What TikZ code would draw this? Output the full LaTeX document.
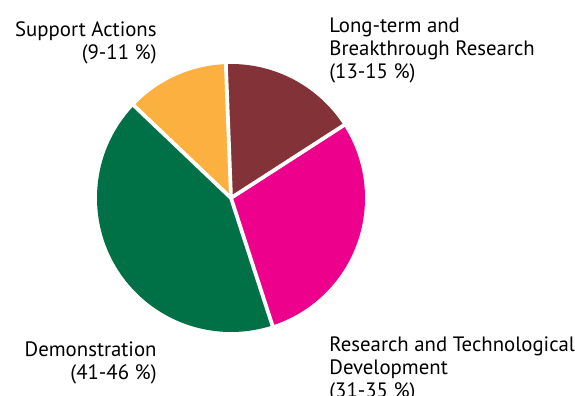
\documentclass[tikz,border=0pt]{standalone}
\usepackage{fontspec}
\setmainfont{PT Sans}
\usepackage{tikz}
\usetikzlibrary{positioning}
\definecolor{ltrcol}{HTML}{833238}
\definecolor{supcol}{HTML}{FBB03F}
\definecolor{democol}{HTML}{007047}
\definecolor{rtdcol}{HTML}{EC008C}
\tikzset{pietext/.style={inner sep=0pt,font=\fontsize{10.4}{11.5}\selectfont}}
\tikzset{gap/.style={draw=white,line width=1.9pt}}

\begin{document}
\begin{tikzpicture}[x=0.5pt,y=0.5pt]
\useasboundingbox (0,0) rectangle (575,396);
\coordinate (C) at (231,198);

\foreach \a / \b / \c in {32.8/92.2/ltrcol,92.2/136.4/supcol,136.4/288/democol,288/392.8/rtdcol}
{
	\fill[\c] (C) -- ++(\a:134) arc[start angle=\a,end angle=\b,radius=134] -- cycle;
}
\foreach \a in {32.8,92.2,136.4,288}
{
	\draw[gap] (C) -- ++(\a:136);
}

% base anchor sits on the last line
\node[pietext,anchor=base east,align=right] (sup) at (157,336) {Support Actions\\(9-11 \%)};
\node[pietext,anchor=base west,align=left] (ltr) at (329,317) {Long-term and\\Breakthrough Research\\(13-15 \%)};
\node[pietext,anchor=base east,align=right] (demo) at (157,16) {Demonstration\\(41-46 \%)};
\node[pietext,anchor=base west,align=left] (rtd) at (329,-2) {Research and Technological\\Development\\(31-35 \%)};

\end{tikzpicture}
\end{document}
